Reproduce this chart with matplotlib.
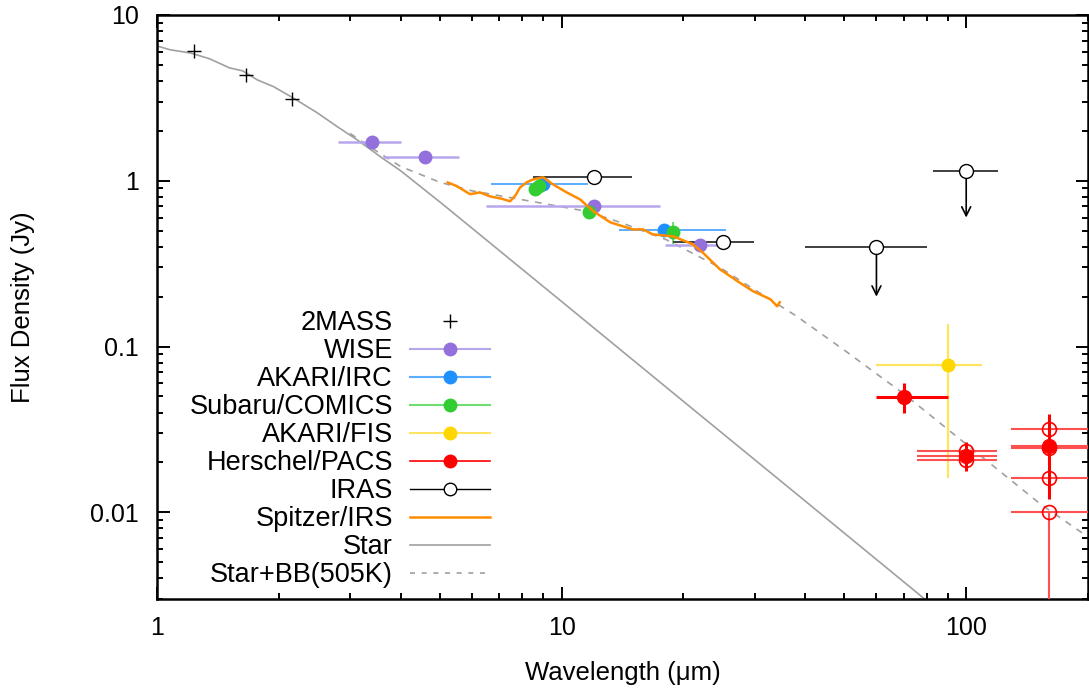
import numpy as np
import matplotlib
matplotlib.use('Agg')
from matplotlib import pyplot as plt
from matplotlib.lines import Line2D
from matplotlib.ticker import FixedLocator, FixedFormatter, LogLocator, NullFormatter

plt.rcParams['font.family'] = ['Liberation Sans', 'DejaVu Sans']

# 2MASS
twomass_wl = [1.235, 1.662, 2.159]
twomass_f = [6.07, 4.36, 3.13]

# WISE
wise_wl = [3.4, 4.6, 12.0, 22.0]
wise_f = [1.72, 1.40, 0.70, 0.408]
wise_lo = [2.80, 3.62, 6.5, 18.0]
wise_hi = [4.0, 5.58, 17.5, 25.8]

# AKARI/IRC
irc_wl = [9.0, 17.9]
irc_f = [0.96, 0.502]
irc_lo = [6.7, 13.9]
irc_hi = [11.6, 25.5]

# Subaru/COMICS
comics_wl = [8.6, 8.8, 11.7, 18.8]
comics_f = [0.89, 0.93, 0.645, 0.489]
comics_elo = [0.0, 0.0, 0.0, 0.075]
comics_ehi = [0.0, 0.0, 0.0, 0.072]

# AKARI/FIS
fis_wl = [90.0]
fis_f = [0.0775]
fis_lo = [60.0]
fis_hi = [109.5]
fis_ylo = [0.0162]
fis_yhi = [0.137]

# Herschel/PACS (filled)
pacs_wl = [70.0, 100.0, 160.0]
pacs_f = [0.0498, 0.022, 0.0252]
pacs_lo = [60.0, 75.7, 129.0]
pacs_hi = [90.0, 119.0, 205.0]
pacs_ylo = [0.040, 0.0177, 0.0121]
pacs_yhi = [0.0604, 0.0267, 0.039]

# Herschel/PACS (open)
pacs2_wl = [100.0, 100.0, 160.0, 160.0, 160.0, 160.0]
pacs2_f = [0.0233, 0.0206, 0.032, 0.0245, 0.0162, 0.0101]
pacs2_lo = [75.7, 75.7, 129.0, 129.0, 129.0, 129.0]
pacs2_hi = [119.0, 119.0, 205.0, 205.0, 205.0, 205.0]
pacs2_ylo = [0.0233, 0.0206, 0.032, 0.0245, 0.0162, 0.0001]

# IRAS
iras_wl = [12.0, 25.0, 60.0, 100.0]
iras_f = [1.05, 0.43, 0.40, 1.14]
iras_lo = [8.5, 18.9, 40.0, 83.0]
iras_hi = [14.9, 29.9, 80.0, 120.0]
iras_err = [0.06, 0.03, 0.0, 0.0]
iras_ul_wl = [60.0, 100.0]
iras_ul_f = [0.40, 1.14]
iras_ul_tip = [0.20, 0.60]

# Spitzer/IRS spectrum
irs_wl = [5.23, 5.5, 5.94, 6.28, 6.66, 7.1, 7.46, 7.7, 7.89, 8.2, 8.51, 9.0, 9.53, 10.3,
          11.1, 12.0, 13.2, 15.0, 15.9, 16.8, 18.9, 21.1, 22.3, 24.6, 27.2, 29.7,
          32.8, 34.1, 34.6]
irs_f = [0.977, 0.93, 0.83, 0.851, 0.805, 0.78, 0.752, 0.82, 0.91, 0.98, 1.02, 1.05, 0.95, 0.85,
         0.773, 0.653, 0.561, 0.509, 0.509, 0.475, 0.462, 0.414, 0.37, 0.293, 0.248, 0.216,
         0.193, 0.175, 0.185]

# Star model
star_wl = [1.0, 1.077, 1.21, 1.35, 1.51, 1.63, 1.77, 1.94, 2.17, 2.49, 2.79, 3.12, 3.62,
           4.0, 5.09, 10.0, 20.0, 40.0, 80.0, 100.0]
star_f = [6.51, 6.17, 5.9, 5.44, 4.80, 4.6, 4.06, 3.70, 3.16, 2.57, 2.12, 1.77, 1.36,
          1.15, 0.72, 0.187, 0.0467, 0.0117, 0.00292, 0.00187]

# Star + BB(505K)
bb_wl = [3.0, 3.5, 4.0, 5.0, 6.0, 7.5, 9.0, 11.5, 14.0, 18.2, 24.6, 30.0, 38.0,
         50.0, 70.0, 91.0, 120.0, 152.0, 200.0]
bb_f = [1.93, 1.50, 1.22, 0.98, 0.87, 0.79, 0.73, 0.655, 0.56, 0.44, 0.30, 0.22, 0.153,
        0.095, 0.052, 0.031, 0.018, 0.0113, 0.0071]

c_wise, c_wise_l = '#9370DB', '#B8A6EC'
c_irc, c_irc_l = '#1E90FF', '#5AADFF'
c_comics, c_comics_l = '#32CD32', '#70DD70'
c_fis, c_fis_l = '#FFD700', '#FFE460'
c_pacs, c_pacs_l = '#FF0000', '#FF5050'
c_irs = '#FF8C00'
c_star = '#A0A0A0'


def xerr(wl, lo, hi):
    wl = np.array(wl)
    return [wl - np.array(lo), np.array(hi) - wl]


fig = plt.figure(figsize=(10.89, 6.89), dpi=100)
ax = fig.add_axes([157 / 1089, 1 - 599 / 689, 931 / 1089, 584 / 689])
ax.set_xscale('log')
ax.set_yscale('log')
ax.set_xlim(1, 200)
ax.set_ylim(0.003, 10)

ax.plot(star_wl, star_f, color=c_star, lw=1.2, zorder=2)
ax.plot(bb_wl, bb_f, color=c_star, lw=1.2, ls=(0, (4, 4)), zorder=2)

ax.plot(twomass_wl, twomass_f, ls='none', marker='+', color='k', ms=10, mew=1.0, zorder=5)

ax.errorbar(wise_wl, wise_f, xerr=xerr(wise_wl, wise_lo, wise_hi), fmt='o', color=c_wise,
            ecolor=c_wise_l, elinewidth=1.8, ms=9, capsize=0, zorder=4)
ax.errorbar(irc_wl, irc_f, xerr=xerr(irc_wl, irc_lo, irc_hi), fmt='o', color=c_irc,
            ecolor=c_irc_l, elinewidth=1.4, ms=9, capsize=0, zorder=4)
ax.errorbar(comics_wl, comics_f, yerr=[comics_elo, comics_ehi], fmt='o', color=c_comics,
            ecolor=c_comics_l, elinewidth=1.4, ms=9, capsize=0, zorder=4)
ax.errorbar(fis_wl, fis_f, xerr=xerr(fis_wl, fis_lo, fis_hi),
            yerr=[np.array(fis_f) - np.array(fis_ylo), np.array(fis_yhi) - np.array(fis_f)],
            fmt='o', color=c_fis, ecolor=c_fis_l, elinewidth=1.6, ms=9, capsize=0, zorder=4)
ax.errorbar(pacs2_wl, pacs2_f, xerr=xerr(pacs2_wl, pacs2_lo, pacs2_hi),
            yerr=[np.array(pacs2_f) - np.array(pacs2_ylo), np.zeros(len(pacs2_f))],
            fmt='o', mfc='none', mec=c_pacs, mew=1.2, ecolor=c_pacs_l, elinewidth=1.5,
            ms=10, capsize=0, zorder=4)
# PACS filled: the 70 um band has a bold x bar, the others a thin light one
for i, (w, f, lo, hi) in enumerate(zip(pacs_wl, pacs_f, pacs_lo, pacs_hi)):
    bold = i == 0
    ax.errorbar([w], [f], xerr=xerr([w], [lo], [hi]), fmt='none',
                ecolor=c_pacs if bold else c_pacs_l, elinewidth=2.2 if bold else 1.5,
                capsize=0, zorder=4)
ax.errorbar(pacs_wl, pacs_f,
            yerr=[np.array(pacs_f) - np.array(pacs_ylo), np.array(pacs_yhi) - np.array(pacs_f)],
            fmt='o', color=c_pacs, ecolor=c_pacs, elinewidth=2.2, ms=10, capsize=0, zorder=4)
ax.errorbar(iras_wl, iras_f, xerr=xerr(iras_wl, iras_lo, iras_hi), yerr=iras_err,
            fmt='o', mfc='white', mec='k', mew=1.0, ecolor='#303030', elinewidth=1.3,
            ms=10, capsize=0, zorder=4)
for w, f, t in zip(iras_ul_wl, iras_ul_f, iras_ul_tip):
    ax.annotate('', xy=(w, t), xytext=(w, f),
                arrowprops=dict(arrowstyle='->', color='k', lw=1.2, mutation_scale=16,
                                shrinkA=0, shrinkB=0), zorder=3)

ax.plot(irs_wl, irs_f, color=c_irs, lw=1.8, zorder=6)

# axes styling
for s in ax.spines.values():
    s.set_linewidth(1.8)
ax.tick_params(which='both', direction='in', top=True, right=True, width=1.4)
ax.tick_params(which='major', length=9, labelsize=18)
ax.tick_params(which='minor', length=4.5)
ax.tick_params(axis='x', pad=12)
ax.tick_params(axis='y', pad=13)
ax.xaxis.set_major_locator(FixedLocator([1, 10, 100]))
ax.xaxis.set_major_formatter(FixedFormatter(['1', '10', '100']))
ax.xaxis.set_minor_locator(LogLocator(base=10, subs=np.arange(2, 10)))
ax.xaxis.set_minor_formatter(NullFormatter())
ax.yaxis.set_major_locator(FixedLocator([0.01, 0.1, 1, 10]))
ax.yaxis.set_major_formatter(FixedFormatter(['0.01', '0.1', '1', '10']))
ax.yaxis.set_minor_locator(LogLocator(base=10, subs=np.arange(2, 10)))
ax.yaxis.set_minor_formatter(NullFormatter())

ax.set_xlabel('Wavelength (μm)', fontsize=18.5)
ax.set_ylabel('Flux Density (Jy)', fontsize=18.5)
ax.xaxis.set_label_coords(0.5, -(661 - 599) / 584)
ax.yaxis.set_label_coords(-(157 - 35) / 931, 0.5)

handles = [
    Line2D([], [], ls='none', marker='+', color='k', ms=10, mew=1.0),
    Line2D([], [], color=c_wise_l, lw=1.5, marker='o', mfc=c_wise, mec=c_wise, ms=9),
    Line2D([], [], color=c_irc_l, lw=1.5, marker='o', mfc=c_irc, mec=c_irc, ms=9),
    Line2D([], [], color=c_comics_l, lw=1.5, marker='o', mfc=c_comics, mec=c_comics, ms=9),
    Line2D([], [], color=c_fis_l, lw=1.5, marker='o', mfc=c_fis, mec=c_fis, ms=9),
    Line2D([], [], color=c_pacs, lw=1.2, marker='o', mfc=c_pacs, mec=c_pacs, ms=9),
    Line2D([], [], color='k', lw=1.0, marker='o', mfc='white', mec='k', ms=9),
    Line2D([], [], color=c_irs, lw=1.8),
    Line2D([], [], color=c_star, lw=1.2),
    Line2D([], [], color=c_star, lw=1.2, ls=(0, (3, 4))),
]
labels = ['2MASS', 'WISE', 'AKARI/IRC', 'Subaru/COMICS', 'AKARI/FIS', 'Herschel/PACS',
          'IRAS', 'Spitzer/IRS', 'Star', 'Star+BB(505K)']
ax.legend(handles, labels, loc='upper right', bbox_to_anchor=(490 / 1089, 1 - 310 / 689),
          bbox_transform=fig.transFigure, frameon=False, markerfirst=False, fontsize=19.5,
          borderpad=0, borderaxespad=0, handlelength=2.95, handletextpad=0.63,
          labelspacing=0.074)

fig.savefig('out.png', dpi=100)
